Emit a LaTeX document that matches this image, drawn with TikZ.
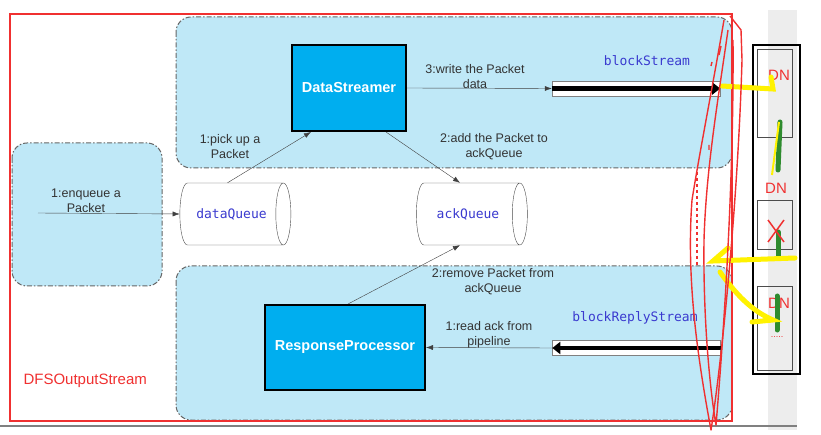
\documentclass[tikz,border=0pt]{standalone}
\usepackage{fontspec}
\setmainfont{Liberation Sans}
\newfontfamily\monofont{DejaVu Sans Mono}
\usetikzlibrary{arrows.meta, shapes.geometric}
\definecolor{paleblue}{HTML}{BFE8F7}
\definecolor{boxblue}{HTML}{00AEEF}
\definecolor{streamblue}{HTML}{3A3ACF}
\definecolor{frame red}{HTML}{F03030}
\definecolor{marker green}{HTML}{2E8B2E}
\tikzset
    { group/.style =
        { fill = paleblue, draw = black!60, line width = 1pt
        , dash pattern = on 5pt off 2pt on 1.5pt off 2pt
        , rounded corners = 15pt
        }
    , procbox/.style =
        { draw, line width = 2pt, fill = boxblue, text = white
        , font = \fontsize{14.5}{16}\selectfont\bfseries
        }
    , queue/.style =
        { cylinder, draw = black!70, fill = white, aspect = 1.3
        , minimum width = 62pt, minimum height = 111pt, inner sep = 0pt
        , font = \monofont\fontsize{13}{15}\selectfont, text = streamblue
        }
    , pipe/.style =
        { draw = black!50, fill = white, minimum width = 168pt, minimum height = 15pt
        , inner sep = 0pt
        }
    , lbl/.style =
        { align = center, text = black!80, font = \fontsize{12.5}{15}\selectfont }
    , stream/.style =
        { text = streamblue, font = \monofont\fontsize{13}{15}\selectfont }
    , flow/.style = { draw = black!75, -{Latex[length=7pt, width=5pt]} }
    , scribble/.style = { draw = frame red, line width = 1.4pt, line join = round }
    , marker/.style = { line width = 5pt, line cap = round }
    }

\begin{document}
\begin{tikzpicture}[x=1pt, y=-1pt]

    \useasboundingbox[fill=white] (0,0) rectangle (821,435);

    % datanode column
    \fill[black!7] (768,10) rectangle (797,430);
    \draw[line width=2pt] (753,45) rectangle (800,374);
    \draw[black!70] (757,49) rectangle (792,137);
    \draw[black!70] (757,200) rectangle (792,249);
    \draw[black!70] (757,286) rectangle (792,370);
    \draw[black!50, line width=1.5pt] (0,426) -- (797,426);

    % groups inside the stream
    \draw[group] (176,17) rectangle (732,168);
    \draw[group] (12,143) rectangle (162,286);
    \draw[group] (176,266) rectangle (732,420);
    \draw[frame red, line width=2pt] (10,14) rectangle (732,421);
    \node[text=frame red, font=\fontsize{15}{17}\selectfont, anchor=west] (dfs) at (20,381) {DFSOutputStream};

    \node[procbox, minimum width=114pt, minimum height=86pt] (ds) at (349,88) {DataStreamer};
    \node[procbox, minimum width=160pt, minimum height=85pt] (rp) at (345,347.5) {ResponseProcessor};
    \node[queue] (dq) at (231.5,214) {dataQueue};
    \node[queue] (aq) at (468,214) {ackQueue};

    \node[pipe] (bs) at (636,88.5) {};
    \node[pipe] (br) at (636.5,348) {};
    \draw[line width=4.5pt, -{Triangle[length=8pt, width=12pt]}] (bs.west) -- (bs.east);
    \draw[line width=4.5pt, -{Triangle[length=8pt, width=12pt]}] (br.east) -- (br.west);
    \node[stream] (bsl) at (647,61) {blockStream};
    \node[stream] (brl) at (635,318) {blockReplyStream};

    \coordinate (in) at (38,213);
    \draw[flow] (in) -- (dq.west);
    \draw[flow] ([xshift=-4pt]dq.north) -- ([xshift=20pt]ds.south west);
    \draw[flow] ([xshift=-21pt]ds.south east) -- ([xshift=-8pt]aq.north);
    \draw[flow] (ds.east) -- (bs.west);
    \draw[flow] ([xshift=3pt]rp.north) -- ([xshift=-8pt]aq.south);
    \draw[flow] (br.west) -- (rp.east);

    \node[lbl] (enq) at (86,201) {1:enqueue a\\Packet};
    \node[lbl] (pick) at (230,147) {1:pick up a\\Packet};
    \node[lbl] (add) at (494,147) {2:add the Packet to\\ackQueue};
    \node[lbl] (wr) at (475,77) {3:write the Packet\\data};
    \node[lbl] (rm) at (493,282) {2:remove Packet from\\ackQueue};
    \node[lbl] (rd) at (489,335) {1:read ack from\\pipeline};

    % datanodes and pen marks
    \node[text=frame red, font=\fontsize{15}{17}\selectfont] (dn1) at (779,75) {DN};
    \node[text=frame red, font=\fontsize{15}{17}\selectfont] (dn2) at (776,188) {DN};
    \node[text=frame red, font=\fontsize{15}{17}\selectfont] (dn3) at (779,303) {DN};
    \node[text=frame red, font=\fontsize{9}{9}\selectfont] (dots) at (777,337) {.....};
    \draw[marker, marker green] (780,122) -- (778,170);
    \draw[marker, marker green] (778,232) -- (778,258);
    \draw[marker, marker green] (777,296) -- (777,330);
    \draw[frame red, line width=1.5pt] (768,220) -- (784,242) (768,242) -- (784,220);
    \draw[marker, yellow] (722,86) -- (773,89) -- (771,77);
    \draw[yellow, line width=2pt] (779,122) -- (772,175);
    \draw[marker, yellow] (795,258) -- (713,261) -- (728,248);
    \draw[marker, yellow] (720,272) .. controls (740,300) and (755,312) .. (773,320) -- (752,322);

    \draw[scribble] (724,20) .. controls (712,90) and (700,150) .. (692,200)
        .. controls (686,280) and (698,360) .. (711,430)
        .. controls (722,360) and (738,200) .. (742,60) -- (741,30) -- (730,16);
    \draw[scribble] (728,30) .. controls (718,100) and (706,170) .. (704,240)
        .. controls (703,320) and (710,390) .. (716,425)
        .. controls (724,330) and (734,180) .. (733,40);
    \draw[scribble, dashed] (697,172) -- (697,265);
    \draw[scribble] (721,46) -- (719,55) (712,62) -- (711,66) (709,145) -- (709,150);

\end{tikzpicture}
\end{document}
